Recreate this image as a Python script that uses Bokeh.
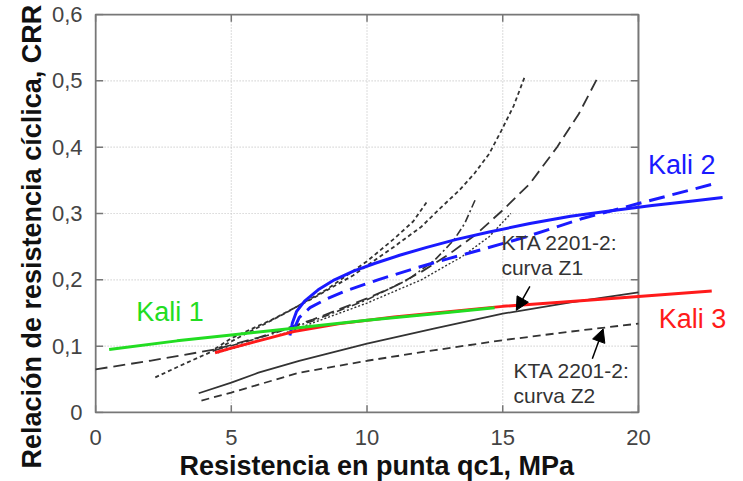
import math
from bokeh.plotting import figure
from bokeh.models import Arrow, NormalHead, FixedTicker, Title
from bokeh.core.properties import value
from bokeh.embed import file_html
from bokeh.resources import INLINE

# ---- axes ----
x_ticks = [0, 5, 10, 15, 20]
x_tick_labels = ["0", "5", "10", "15", "20"]
y_ticks = [0, 0.1, 0.2, 0.3, 0.4, 0.5, 0.6]
y_tick_labels = ["0", "0,1", "0,2", "0,3", "0,4", "0,5", "0,6"]
x_title = "Resistencia en punta qc1, MPa"
y_title = "Relación de resistencia cíclica, CRR"

# ---- Kali curves ----
kali1_x = [0.5, 3.0, 5.0, 7.3, 10.0, 12.5, 14.7]
kali1_y = [0.095, 0.108, 0.117, 0.127, 0.139, 0.149, 0.158]

kali3_x = [4.4, 5.0, 6.0, 7.3, 9.0, 11.0, 13.0, 15.0, 17.0, 19.0, 20.0, 22.7]
kali3_y = [0.090, 0.097, 0.108, 0.122, 0.134, 0.144, 0.152, 0.160, 0.166, 0.172, 0.175, 0.183]

kali2_x = [7.16, 7.25, 7.4, 7.7, 8.2, 8.8, 9.5, 10.3, 11.2, 12.2, 13.3, 14.5, 16.0, 17.5, 19.0, 20.5, 22.0, 23.1]
kali2_y = [0.116, 0.135, 0.152, 0.168, 0.185, 0.200, 0.213, 0.225, 0.237, 0.249, 0.261, 0.272, 0.285, 0.296, 0.304, 0.312, 0.319, 0.324]

kali2d_x = [7.3, 7.5, 7.9, 8.5, 9.2, 10.4, 11.9, 13.0, 14.0, 15.8, 17.9, 20.0, 22.8]
kali2d_y = [0.125, 0.143, 0.158, 0.171, 0.183, 0.200, 0.219, 0.232, 0.243, 0.264, 0.292, 0.315, 0.345]

# ---- KTA 2201-2 curves ----
z1_x = [3.8, 5.0, 6.0, 7.5, 10.0, 12.5, 15.0, 17.5, 20.0]
z1_y = [0.029, 0.045, 0.060, 0.078, 0.104, 0.127, 0.149, 0.166, 0.181]

z2_x = [3.9, 5.0, 6.0, 7.5, 10.0, 12.5, 15.0, 17.5, 20.0]
z2_y = [0.018, 0.030, 0.042, 0.060, 0.078, 0.094, 0.109, 0.122, 0.134]

# ---- other reference curves (black) ----
a_x = [0.0, 2.0, 4.4, 6.0, 8.0, 10.0, 11.0, 12.0, 13.0, 14.0, 15.0, 16.0, 17.0, 17.8, 18.5]
a_y = [0.065, 0.078, 0.095, 0.113, 0.140, 0.172, 0.190, 0.212, 0.238, 0.268, 0.305, 0.345, 0.400, 0.450, 0.505]

b_x = [4.4, 5.0, 6.5, 8.0, 9.5, 11.0, 12.0, 12.7, 13.4, 13.95, 14.5, 14.95, 15.4, 15.8]
b_y = [0.096, 0.112, 0.140, 0.172, 0.207, 0.250, 0.280, 0.308, 0.335, 0.360, 0.390, 0.425, 0.462, 0.505]

c_x = [2.2, 3.3, 4.4, 5.5, 7.0, 8.5, 10.0, 11.0, 11.7, 12.25]
c_y = [0.053, 0.074, 0.094, 0.118, 0.150, 0.185, 0.228, 0.262, 0.288, 0.320]

d_x = [4.4, 6.0, 8.0, 10.0, 11.5, 12.5, 13.2, 13.6, 14.0]
d_y = [0.094, 0.112, 0.138, 0.170, 0.200, 0.230, 0.260, 0.285, 0.322]

e_x = [4.5, 7.0, 10.0, 12.0, 13.5, 14.5, 15.3]
e_y = [0.090, 0.120, 0.165, 0.200, 0.235, 0.265, 0.300]

# ---- annotations ----
kali_text = ["Kali 1", "Kali 2", "Kali 3"]
kali_text_x = [1.5, 20.35, 20.75]
kali_text_y = [0.151, 0.373, 0.141]
kali_colors = ["#22dd22", "#1a1aff", "#ff1a1a"]

kta_text = ["KTA 2201-2:", "curva Z1", "KTA 2201-2:", "curva Z2"]
kta_text_x = [14.95, 14.95, 15.4, 15.4]
kta_text_y = [0.257, 0.218, 0.063, 0.025]

FONT = "Liberation Sans"

p = figure(width=743, height=481,
           x_range=(-0.04, 23.87), y_range=(-0.0015, 0.6015),
           output_backend="svg", toolbar_location=None,
           min_border_left=94, min_border_right=0,
           min_border_top=13, min_border_bottom=68)
p.outline_line_color = None
p.grid.visible = False
p.background_fill_color = "white"

for ax, ticks, labels in ((p.xaxis, x_ticks, x_tick_labels), (p.yaxis, y_ticks, y_tick_labels)):
    ax.ticker = FixedTicker(ticks=ticks)
    ax.major_label_overrides = {t: l for t, l in zip(ticks, labels)}
    ax.axis_line_color = None
    ax.major_tick_line_color = None
    ax.minor_tick_line_color = None
    ax.major_label_text_font = FONT
    ax.major_label_text_font_size = "22px"
    ax.major_label_text_color = "#444444"
p.xaxis.major_label_standoff = 10
p.yaxis.major_label_standoff = 6

x0, x1 = x_ticks[0], x_ticks[-1]
y0, y1 = y_ticks[0], y_ticks[-1]

# grid (dotted, only inside frame)
p.segment(x0=x_ticks[1:-1], y0=[y0] * 3, x1=x_ticks[1:-1], y1=[y1] * 3,
          line_color="#c4c4c4", line_width=1.2, line_dash="1 2")
p.segment(x0=[x0] * 5, y0=y_ticks[1:-1], x1=[x1] * 5, y1=y_ticks[1:-1],
          line_color="#c4c4c4", line_width=1.2, line_dash="1 2")

# inward tick marks
tl_x, tl_y = 0.28, 0.011
p.segment(x0=x_ticks, y0=[y0] * 5, x1=x_ticks, y1=[y0 + tl_y] * 5, line_color="#777777", line_width=1.5)
p.segment(x0=x_ticks, y0=[y1] * 5, x1=x_ticks, y1=[y1 - tl_y] * 5, line_color="#777777", line_width=1.5)
p.segment(x0=[x0] * 7, y0=y_ticks, x1=[x0 + tl_x] * 7, y1=y_ticks, line_color="#777777", line_width=1.5)
p.segment(x0=[x1] * 7, y0=y_ticks, x1=[x1 - tl_x] * 7, y1=y_ticks, line_color="#777777", line_width=1.5)

# frame
p.quad(left=[x0], right=[x1], bottom=[y0], top=[y1], fill_color=None,
       line_color="#777777", line_width=2)

# black curves
blk = "#333333"
p.line(z1_x, z1_y, line_color=blk, line_width=1.8)
p.line(z2_x, z2_y, line_color=blk, line_width=1.8, line_dash="8 5")
p.line(a_x, a_y, line_color=blk, line_width=1.8, line_dash="12 6")
p.line(b_x, b_y, line_color=blk, line_width=1.8, line_dash="4 3")
p.line(c_x, c_y, line_color=blk, line_width=1.8, line_dash="4 3")
p.line(d_x, d_y, line_color=blk, line_width=1.6, line_dash="8 3 2 3")
p.line(e_x, e_y, line_color=blk, line_width=1.4, line_dash="2 2")

# Kali curves
p.line(kali2d_x, kali2d_y, line_color=kali_colors[1], line_width=3, line_dash="16 8")
p.line(kali2_x, kali2_y, line_color=kali_colors[1], line_width=3)
p.line(kali3_x, kali3_y, line_color=kali_colors[2], line_width=3)
p.line(kali1_x, kali1_y, line_color=kali_colors[0], line_width=3)

# texts
p.text(x=kali_text_x, y=kali_text_y, text=kali_text, text_color=kali_colors,
       text_font=value(FONT), text_font_size="27px", text_baseline="middle", text_align="left")
p.text(x=kta_text_x, y=kta_text_y, text=kta_text, text_color="#333333",
       text_font=value(FONT), text_font_size="21px", text_baseline="middle", text_align="left")

# arrows
p.add_layout(Arrow(end=NormalHead(size=13, fill_color="black", line_color="black"),
                   x_start=16.0, y_start=0.19, x_end=15.5, y_end=0.154,
                   line_color="black", line_width=1.5))
p.add_layout(Arrow(end=NormalHead(size=13, fill_color="black", line_color="black"),
                   x_start=18.3, y_start=0.081, x_end=18.7, y_end=0.126,
                   line_color="black", line_width=1.5))

# axis titles
p.add_layout(Title(text=x_title, align="left", offset=85, standoff=2,
                   text_font=FONT, text_font_size="27px", text_font_style="bold",
                   text_color="#111111"), "below")
p.add_layout(Title(text=y_title, align="left", offset=-55, standoff=4,
                   text_font=FONT, text_font_size="27px", text_font_style="bold",
                   text_color="#111111"), "left")

open("out.html", "w").write(file_html(p, INLINE))
